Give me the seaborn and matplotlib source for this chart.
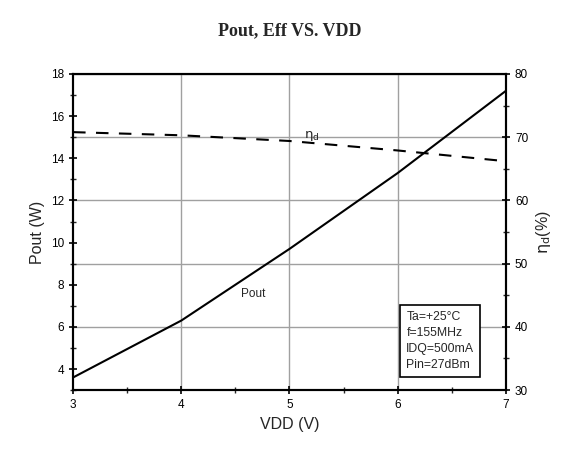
import matplotlib
matplotlib.use('Agg')
import matplotlib.pyplot as plt
import matplotlib.ticker as ticker
import seaborn as sns
import pandas as pd

# data
vdd = [3, 4, 5, 6, 7]
pout = [3.6, 6.3, 9.7, 13.3, 17.2]
eff = [70.8, 70.3, 69.4, 67.9, 66.2]
cond_lines = ['Ta=+25\u00b0C', 'f=155MHz', 'IDQ=500mA', 'Pin=27dBm']

df = pd.DataFrame({'VDD': vdd, 'Pout': pout, 'Eff': eff})

sns.set_style('white')
plt.rcParams['font.family'] = ['Liberation Sans', 'DejaVu Sans']

fig = plt.figure(figsize=(5.71, 4.51), dpi=100)
ax = fig.add_axes([0.128, 0.135, 0.758, 0.701])
ax2 = ax.twinx()

# grid: vertical from bottom axis, horizontal from right axis
ax.set_zorder(ax2.get_zorder() + 1)
ax.patch.set_visible(False)
ax2.grid(axis='y', color='#a0a0a0', linewidth=1.0)
ax2.xaxis.grid(False)
for v in [4, 5, 6]:
    ax2.axvline(v, color='#a0a0a0', linewidth=1.0, zorder=0)

sns.lineplot(data=df, x='VDD', y='Pout', ax=ax, color='black', linewidth=1.5)
sns.lineplot(data=df, x='VDD', y='Eff', ax=ax2, color='black', linewidth=1.5,
             linestyle=(0, (6, 5)))

ax.set_xlim(3, 7)
ax.set_ylim(3, 18)
ax2.set_ylim(30, 80)
ax2.set_xlim(3, 7)

ax.xaxis.set_major_locator(ticker.MultipleLocator(1))
ax.xaxis.set_minor_locator(ticker.MultipleLocator(0.5))
ax.yaxis.set_major_locator(ticker.FixedLocator([4, 6, 8, 10, 12, 14, 16, 18]))
ax.yaxis.set_minor_locator(ticker.MultipleLocator(1))
ax2.yaxis.set_major_locator(ticker.MultipleLocator(10))
ax2.yaxis.set_minor_locator(ticker.MultipleLocator(5))

for a in (ax, ax2):
    for s in a.spines.values():
        s.set_color('black')
        s.set_linewidth(1.5)
    a.tick_params(which='major', direction='inout', length=6, width=1.2,
                  labelsize=8.5, colors='black')
    a.tick_params(which='minor', direction='inout', length=4, width=1.0)
ax.tick_params(axis='x', which='both', bottom=True)
ax.tick_params(axis='y', which='both', left=True)
ax2.tick_params(axis='y', which='both', right=True)

ax.set_xlabel('VDD (V)', fontsize=11.5)
ax.set_ylabel('Pout (W)', fontsize=11.5)
ax2.set_ylabel(r'$\mathrm{\eta_d}$(%)', fontsize=11.5)

ax.text(5.13, 14.95, r'$\mathrm{\eta_d}$', fontsize=9.5)
ax.text(4.55, 7.4, 'Pout', fontsize=8.5)
ax.text(0.77, 0.06, '\n'.join(cond_lines), transform=ax.transAxes,
        fontsize=8.8, linespacing=1.45, va='bottom', ha='left',
        bbox=dict(boxstyle='square,pad=0.5', facecolor='white',
                  edgecolor='black', linewidth=1.2))

fig.text(0.508, 0.932, 'Pout, Eff VS. VDD', ha='center', va='center',
         fontsize=13, fontweight='bold', family='Liberation Serif')

fig.savefig('out.png', dpi=100)
